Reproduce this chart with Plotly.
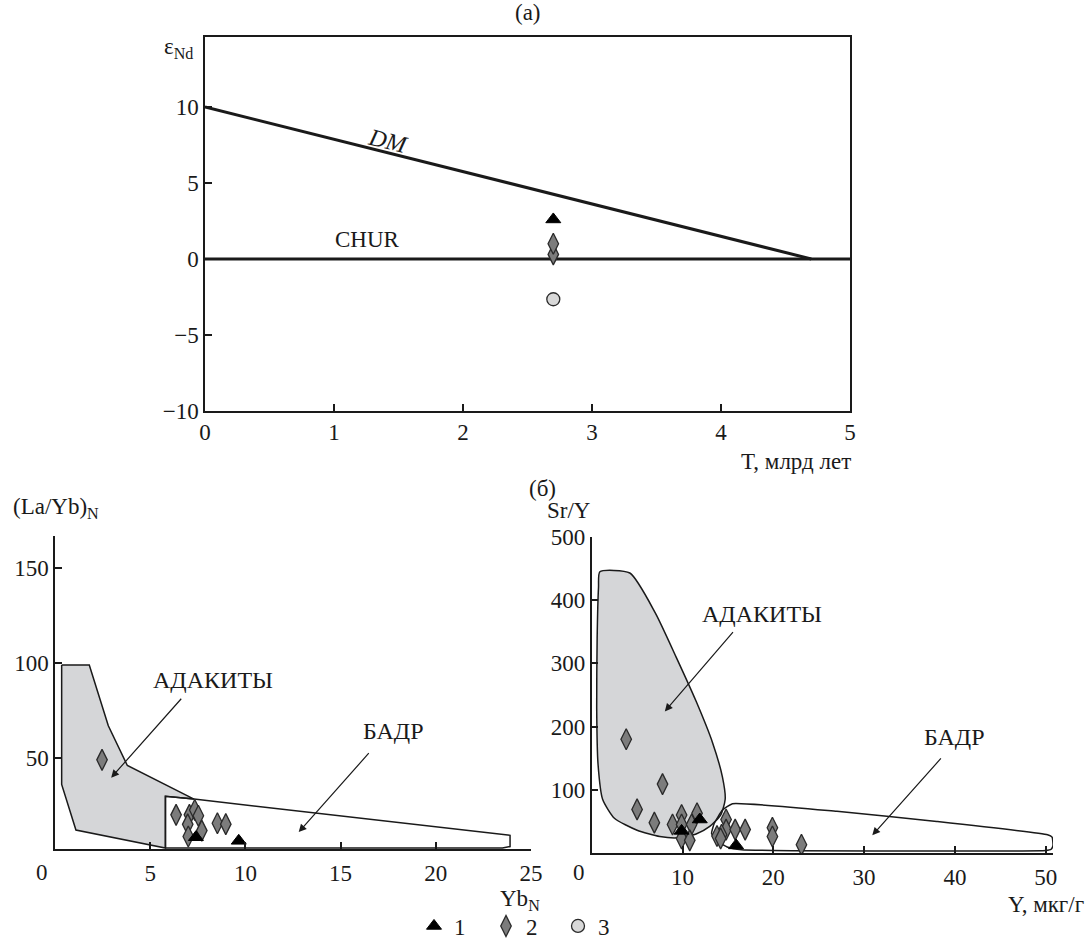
import plotly.graph_objects as go

W, H = 1088, 943
FONT = "Liberation Serif, Times New Roman, serif"


def px(x):
    return x / W


def py(y):
    return 1 - y / H


# ---------------- (а) epsilon Nd vs T ----------------
dm_T = [0, 4.7]
dm_eps = [10, 0]
chur_T = [0, 5]
chur_eps = [0, 0]
a_tri_T = [2.7]
a_tri_eps = [2.6]
a_dia_T = [2.7, 2.7]
a_dia_eps = [0.3, 1.0]
a_cir_T = [2.7]
a_cir_eps = [-2.65]
a_xticks = [0, 1, 2, 3, 4, 5]
a_yticks = [-10, -5, 0, 5, 10]
a_xrange = [0, 5]
a_yrange = [-10, 14.6]

# ---------------- (б) left: (La/Yb)N vs YbN ----------------
l_tri_x = [7.4, 9.65]
l_tri_y = [8.2, 6.3]
l_dia_x = [2.47, 6.36, 7.06, 7.34, 7.53, 6.97, 7.71, 7.0, 8.53, 8.97]
l_dia_y = [49, 20, 20, 22.6, 19.5, 15, 11.7, 8.6, 15.6, 15.1]
adak_l_x = [0.35, 1.8, 2.8, 3.8, 7.3, 5.8, 5.8, 1.1, 0.35, 0.35]
adak_l_y = [99, 99, 67, 46, 28.3, 29.8, 2.5, 12, 36, 99]
badr_l_x = [5.8, 5.8, 7.3, 23.5, 23.9, 23.9, 23.5, 5.8]
badr_l_y = [2.5, 29.8, 28.3, 10, 9.2, 3.3, 2.5, 2.5]
l_xticks = [5, 10, 15, 20, 25]
l_yticks = [50, 100, 150]
l_xrange = [0, 25]
l_yrange = [2, 167]

# ---------------- (б) right: Sr/Y vs Y ----------------
r_tri_x = [9.9, 11.9, 15.9]
r_tri_y = [35, 53, 12]
r_dia_x = [3.8, 7.8, 5.0, 6.9, 8.9, 9.9, 9.9, 11.0, 11.6, 9.9, 10.8,
           14.8, 14.8, 15.8, 16.9, 14.3, 13.8, 14.2, 19.9, 19.9, 23.1]
r_dia_y = [180, 109, 69, 48, 45, 60, 45, 45, 63, 23, 20,
           53, 37, 37, 37, 29, 27, 23, 40, 26, 13]
adak_r_x = [0.9, 4.2, 7.0, 9.3, 11.5, 13.3, 14.4, 14.7, 14.2, 13.0, 11.5,
            9.5, 7.5, 5.0, 2.5, 1.2, 0.7, 0.55, 0.6, 0.75, 0.9]
adak_r_y = [445, 443, 380, 310, 240, 175, 120, 85, 60, 42, 30,
            24, 26, 36, 55, 85, 140, 230, 340, 420, 445]
badr_r_x = [15.5, 27, 38, 50.2, 50.7, 50.8, 50.6, 50.0, 20, 16.5, 15.0,
            13.9, 13.2, 13.5, 14.4, 15.5]
badr_r_y = [78, 66, 50, 29, 25, 12, 6, 4, 4, 5, 9,
            18, 31, 47, 68, 78]
r_xticks = [10, 20, 30, 40, 50]
r_yticks = [100, 200, 300, 400, 500]
r_xrange = [0, 50.8]
r_yrange = [0, 500]

legend_names = ["1", "2", "3"]

TRI = dict(symbol="triangle-up", size=13, color="black", line=dict(color="black", width=1))
DIA = dict(symbol="diamond-tall", size=15, color="#7c7c7c", line=dict(color="#2a2a2a", width=1.3))
CIR = dict(symbol="circle", size=13, color="#d8d8d8", line=dict(color="#2a2a2a", width=1.3))
POLY_LINE = dict(color="#1a1a1a", width=1.5)

TS = 23   # tick size
LS = 23   # label size

fig = go.Figure()

# (а)
fig.add_trace(go.Scatter(x=dm_T, y=dm_eps, mode="lines", line=dict(color="#1a1a1a", width=3),
                         showlegend=False, xaxis="x", yaxis="y", hoverinfo="skip"))
fig.add_trace(go.Scatter(x=chur_T, y=chur_eps, mode="lines", line=dict(color="#1a1a1a", width=3),
                         showlegend=False, xaxis="x", yaxis="y", hoverinfo="skip"))
fig.add_trace(go.Scatter(x=a_tri_T, y=a_tri_eps, mode="markers", marker=TRI, name=legend_names[0],
                         legendgroup="1", showlegend=True, xaxis="x", yaxis="y"))
fig.add_trace(go.Scatter(x=a_dia_T, y=a_dia_eps, mode="markers", marker=DIA, name=legend_names[1],
                         legendgroup="2", showlegend=True, xaxis="x", yaxis="y"))
fig.add_trace(go.Scatter(x=a_cir_T, y=a_cir_eps, mode="markers", marker=CIR, name=legend_names[2],
                         legendgroup="3", showlegend=True, xaxis="x", yaxis="y"))

# left (б)
fig.add_trace(go.Scatter(x=adak_l_x, y=adak_l_y, mode="lines", fill="toself", fillcolor="#d5d6d8",
                         line=POLY_LINE, showlegend=False, xaxis="x2", yaxis="y2", hoverinfo="skip"))
fig.add_trace(go.Scatter(x=badr_l_x, y=badr_l_y, mode="lines", line=POLY_LINE,
                         showlegend=False, xaxis="x2", yaxis="y2", hoverinfo="skip"))
fig.add_trace(go.Scatter(x=l_dia_x, y=l_dia_y, mode="markers", marker=DIA, legendgroup="2",
                         showlegend=False, xaxis="x2", yaxis="y2"))
fig.add_trace(go.Scatter(x=l_tri_x, y=l_tri_y, mode="markers", marker=TRI, legendgroup="1",
                         showlegend=False, xaxis="x2", yaxis="y2"))

# right (б)
fig.add_trace(go.Scatter(x=adak_r_x, y=adak_r_y, mode="lines", fill="toself", fillcolor="#d5d6d8",
                         line=dict(color="#1a1a1a", width=1.5, shape="spline", smoothing=0.6),
                         showlegend=False, xaxis="x3", yaxis="y3", hoverinfo="skip"))
fig.add_trace(go.Scatter(x=badr_r_x, y=badr_r_y, mode="lines",
                         line=dict(color="#1a1a1a", width=1.5, shape="spline", smoothing=0.4),
                         showlegend=False, xaxis="x3", yaxis="y3", hoverinfo="skip"))
fig.add_trace(go.Scatter(x=r_dia_x, y=r_dia_y, mode="markers", marker=DIA, legendgroup="2",
                         showlegend=False, xaxis="x3", yaxis="y3"))
fig.add_trace(go.Scatter(x=r_tri_x, y=r_tri_y, mode="markers", marker=TRI, legendgroup="1",
                         showlegend=False, xaxis="x3", yaxis="y3"))

TICKFONT = dict(family=FONT, size=TS, color="#1a1a1a")
AX = dict(showgrid=False, zeroline=False, showline=True, linecolor="#1a1a1a", linewidth=1.5,
          ticks="inside", ticklen=7, tickwidth=1.5, tickcolor="#1a1a1a", tickfont=TICKFONT)

top_dom_x = [px(205), px(850)]
top_dom_y = [py(411), py(37)]
bl_dom_x = [px(55), px(531)]
bl_dom_y = [py(849), py(536)]
br_dom_x = [px(591.7), px(1053)]
br_dom_y = [py(853), py(537)]

zero_pos = top_dom_y[0] + (0 - a_yrange[0]) / (a_yrange[1] - a_yrange[0]) * (top_dom_y[1] - top_dom_y[0])

fig.update_layout(
    width=W, height=H,
    margin=dict(l=0, r=0, t=0, b=0, autoexpand=False),
    paper_bgcolor="white", plot_bgcolor="white",
    font=dict(family=FONT, size=LS, color="#1a1a1a"),
    xaxis=dict(AX, domain=top_dom_x, range=a_xrange, tickvals=a_xticks, mirror=True, anchor="y"),
    yaxis=dict(AX, domain=top_dom_y, range=a_yrange, tickvals=a_yticks, mirror=True, anchor="x"),
    xaxis4=dict(overlaying="x", anchor="free", position=zero_pos, range=a_xrange, tickvals=a_xticks[1:-1],
                showline=False, showgrid=False, zeroline=False, showticklabels=False,
                ticks="outside", ticklen=8, tickwidth=1.5, tickcolor="#1a1a1a", side="bottom"),
    xaxis2=dict(AX, domain=bl_dom_x, range=l_xrange, tickvals=l_xticks, anchor="y2", ticklabelstandoff=3),
    yaxis2=dict(AX, domain=bl_dom_y, range=l_yrange, tickvals=l_yticks, anchor="x2"),
    xaxis3=dict(AX, domain=br_dom_x, range=r_xrange, tickvals=r_xticks, anchor="y3", ticklabelstandoff=3),
    yaxis3=dict(AX, domain=br_dom_y, range=r_yrange, tickvals=r_yticks, anchor="x3"),
    legend=dict(orientation="h", x=px(522), xanchor="center", y=py(926), yanchor="middle",
                font=dict(family=FONT, size=LS, color="#1a1a1a"), bgcolor="rgba(0,0,0,0)",
                itemwidth=30, entrywidth=27, entrywidthmode="pixels", itemclick=False,
                tracegroupgap=0),
)

ann = []


def txt(text, x, y, xanchor="center", yanchor="middle", size=LS, **kw):
    ann.append(dict(text=text, x=x, y=y, xref="paper", yref="paper", xanchor=xanchor,
                    yanchor=yanchor, showarrow=False, font=dict(family=FONT, size=size, color="#1a1a1a"), **kw))


txt("(а)", px(528), py(13))
txt("ε<sub>Nd</sub>", px(178), py(48))
txt("T, млрд лет", px(853), py(461), xanchor="right")
txt("(б)", px(542), py(488))
txt("(La/Yb)<sub>N</sub>", px(11), py(508), xanchor="left")
txt("Sr/Y", px(545), py(510), xanchor="left")
txt("Yb<sub>N</sub>", px(520), py(900))
txt("Y, мкг/г", px(1086), py(904), xanchor="right")
txt("0", px(42), py(872), size=TS)
txt("0", px(579), py(872), size=TS)

# in-plot labels (data coordinates)
ann.append(dict(text="<i>DM</i>", x=1.42, y=7.75, xref="x", yref="y", showarrow=False, textangle=14,
                font=dict(family=FONT, size=LS + 1, color="#1a1a1a")))
ann.append(dict(text="CHUR", x=1.26, y=1.25, xref="x", yref="y", showarrow=False,
                font=dict(family=FONT, size=LS, color="#1a1a1a")))
ann.append(dict(text="АДАКИТЫ", x=8.3, y=91, xref="x2", yref="y2", showarrow=False,
                font=dict(family=FONT, size=LS + 1, color="#1a1a1a")))
ann.append(dict(text="БАДР", x=17.8, y=64, xref="x2", yref="y2", showarrow=False,
                font=dict(family=FONT, size=LS + 1, color="#1a1a1a")))
ann.append(dict(text="АДАКИТЫ", x=18.7, y=378, xref="x3", yref="y3", showarrow=False,
                font=dict(family=FONT, size=LS + 1, color="#1a1a1a")))
ann.append(dict(text="БАДР", x=39.9, y=184, xref="x3", yref="y3", showarrow=False,
                font=dict(family=FONT, size=LS + 1, color="#1a1a1a")))

# arrows
for (xr, yr, x0, y0, x1, y1) in [
    ("x2", "y2", 6.7, 82, 2.95, 39.6),
    ("x2", "y2", 16.55, 53.3, 12.8, 10.9),
    ("x3", "y3", 15.7, 352, 8.05, 224),
    ("x3", "y3", 38.6, 152, 30.9, 28),
]:
    ann.append(dict(text="", x=x1, y=y1, ax=x0, ay=y0, xref=xr, yref=yr, axref=xr, ayref=yr,
                    showarrow=True, arrowhead=2, arrowsize=1.3, arrowwidth=1.2, arrowcolor="#1a1a1a"))

fig.update_layout(annotations=ann)
fig.write_html("out.html")
